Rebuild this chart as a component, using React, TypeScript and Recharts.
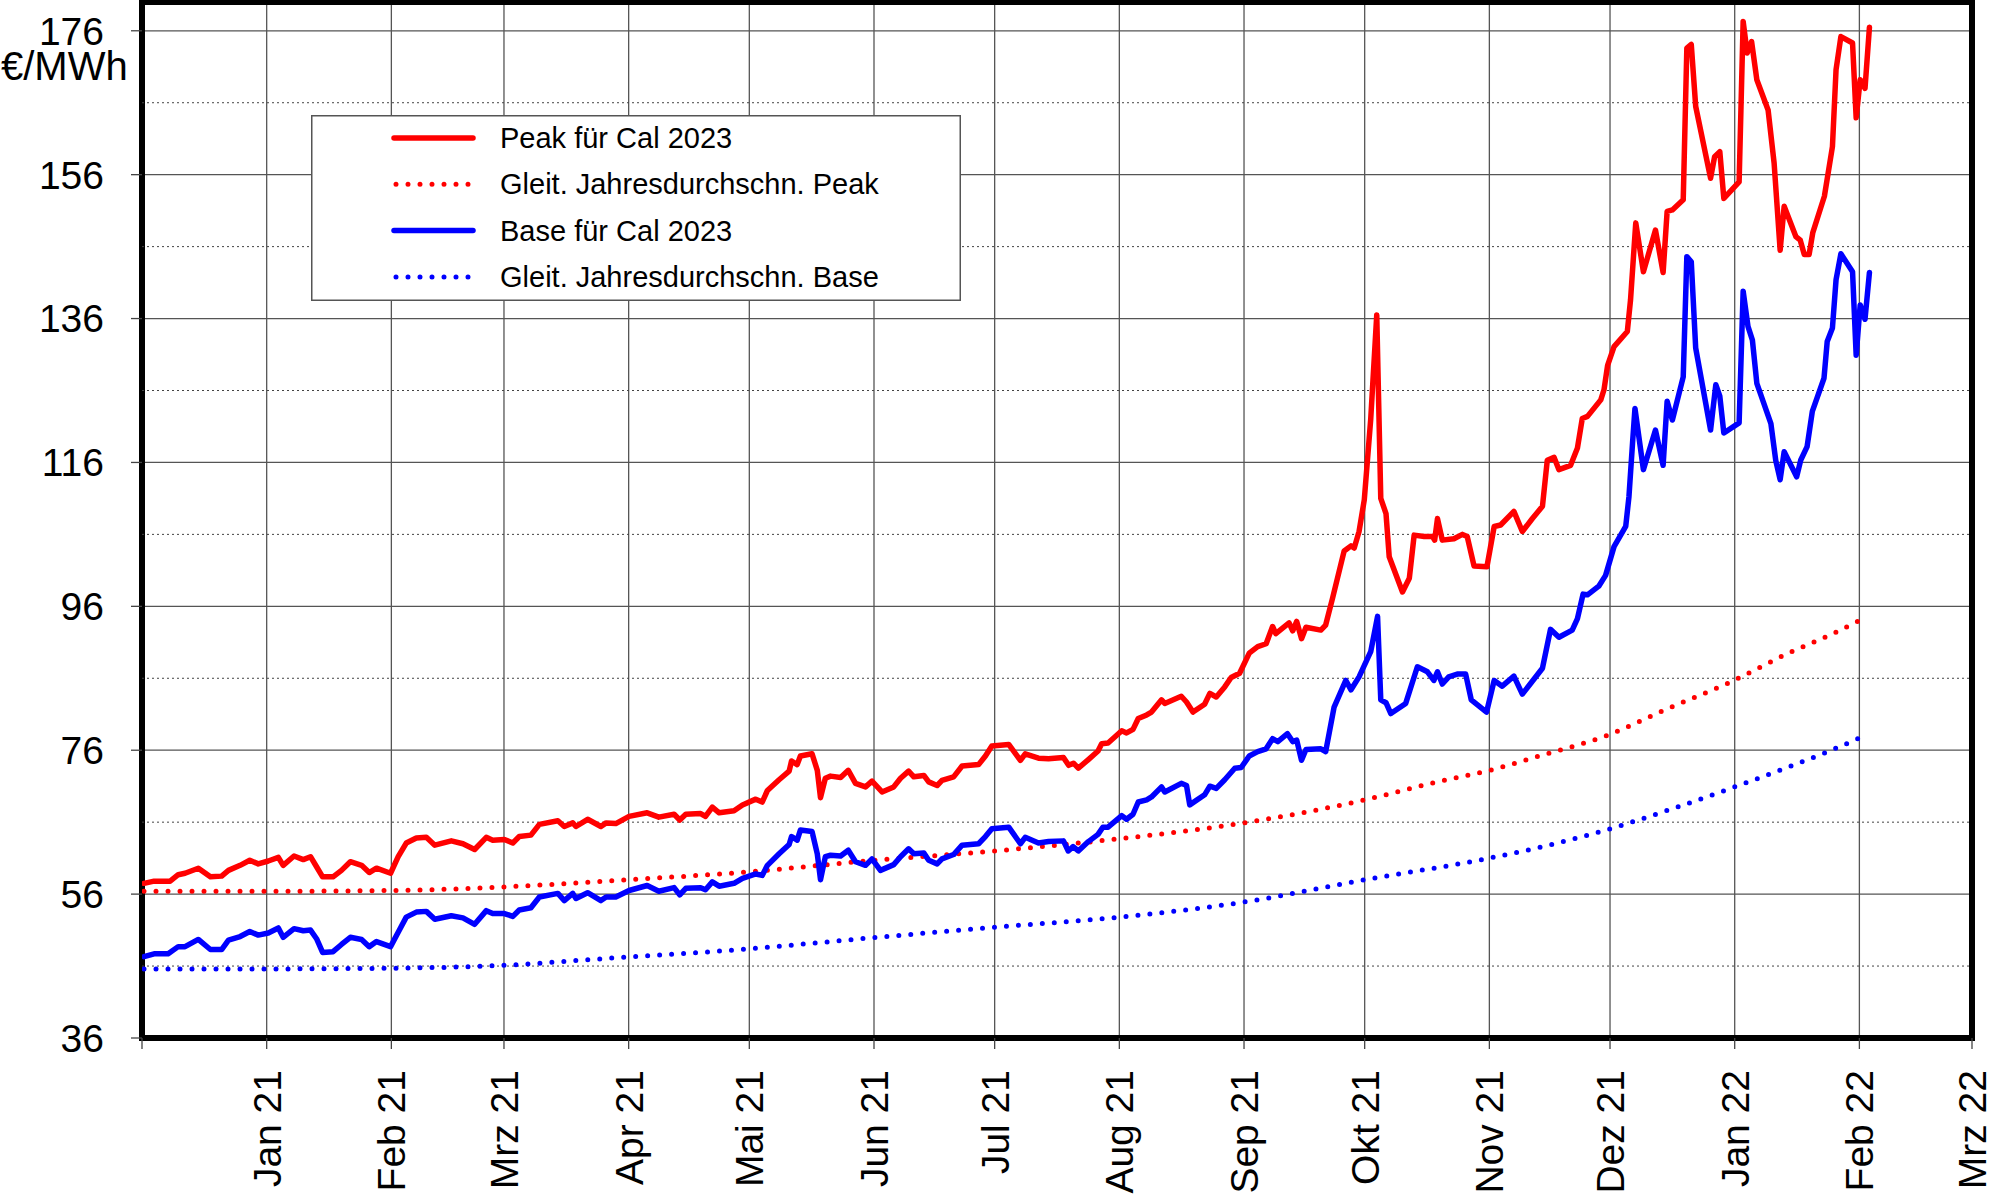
import React from 'react';
import {
  LineChart, Line, XAxis, YAxis, CartesianGrid, ReferenceLine, ReferenceArea, Legend, Label,
} from 'recharts';

// x = days since 1 Dec 2020, y = €/MWh
const peak: [number, number][] = [
  [0.5, 57.5], [3, 57.8], [7, 57.8], [9, 58.7], [10.7, 58.9], [14, 59.6], [17, 58.4], [19.8, 58.5],
  [21.5, 59.3], [24.4, 60.0], [26.8, 60.7], [28.9, 60.2], [31.4, 60.6], [33.9, 61.1], [35.1, 60.0],
  [37.8, 61.3], [40.1, 60.8], [41.9, 61.2], [43.4, 59.8], [44.9, 58.4], [47.5, 58.4], [49.6, 59.3],
  [51.8, 60.5], [54.6, 60.0], [56.5, 59.0], [58.3, 59.6], [61.8, 58.9], [63.7, 61.2], [65.7, 63.1],
  [68.2, 63.8], [70.7, 63.9], [72.8, 62.8], [76.9, 63.4], [79.8, 63.0], [82.7, 62.2], [85.6, 63.9],
  [87.2, 63.5], [90.1, 63.6], [92.2, 63.1], [93.8, 64.0], [96.7, 64.2], [98.8, 65.7], [103.4, 66.2],
  [105, 65.4], [107.1, 65.9], [107.9, 65.4], [110.8, 66.4], [114.1, 65.4], [115.4, 65.9], [117.8, 65.8],
  [121.1, 66.8], [125.6, 67.3], [128.5, 66.7], [132.3, 67.1], [133.7, 66.3], [135.2, 67.1], [138.9, 67.2],
  [140.1, 66.8], [141.8, 68.1], [143.5, 67.3], [147.2, 67.6], [149.3, 68.4], [152.6, 69.2], [154.2, 68.8],
  [155.5, 70.4], [158.4, 71.9], [160.9, 73.1], [161.5, 74.5], [162.9, 74.0], [163.7, 75.2], [166.6, 75.5],
  [167.9, 73.2], [168.7, 69.4], [169.9, 72.1], [171.2, 72.4], [173.7, 72.2], [175.6, 73.2], [177.4, 71.4],
  [179.9, 70.9], [181.5, 71.7], [184, 70.2], [186.9, 70.9], [188.6, 72.1], [190.6, 73.1], [191.9, 72.3],
  [194.4, 72.5], [195.6, 71.6], [197.7, 71.1], [198.9, 71.8], [201.8, 72.3], [203.9, 73.8], [208, 74.0],
  [209.7, 75.2], [211.3, 76.6], [215.5, 76.8], [218.4, 74.6], [219.6, 75.5], [222.9, 74.9], [225.4, 74.8],
  [229.1, 75.0], [230.4, 73.9], [231.6, 74.2], [232.8, 73.5], [235.3, 74.7], [237.7, 75.9], [238.6, 76.9],
  [240.2, 77.0], [243.6, 78.7], [244.8, 78.4], [246.4, 78.9], [247.7, 80.4], [249.8, 80.9], [251, 81.3],
  [253.5, 83.0], [254.3, 82.5], [258.4, 83.5], [259.7, 82.7], [261.3, 81.3], [264.2, 82.4], [265.5, 83.9],
  [267.1, 83.4], [269.2, 84.8], [270.8, 86.1], [272.9, 86.7], [275.3, 89.5], [277.4, 90.4], [279.5, 90.8],
  [281.1, 93.2], [281.9, 92.2], [285.2, 93.7], [286.1, 92.6], [287.1, 93.9], [288.3, 91.5], [289.4, 93.1],
  [293.1, 92.7], [294.3, 93.4], [296, 97.1], [298.9, 103.7], [300.6, 104.4], [301.4, 104.1], [302.6, 106.4],
  [303.9, 110.8], [305.5, 122], [307, 136.5], [308, 111], [309.3, 108.9], [310.1, 102.9], [313.4, 98.0],
  [315.1, 99.9], [316.3, 105.9], [318.8, 105.7], [320.9, 105.7], [321.4, 105.2], [322.1, 108.2],
  [323.3, 105.2], [326.2, 105.4], [328.3, 106.0], [329.5, 105.7], [331.2, 101.6], [334.4, 101.5],
  [336.2, 107.1], [337.8, 107.3], [341.1, 109.2], [343.2, 106.4], [345.7, 108.2], [348.2, 109.9],
  [349.4, 116.3], [351.1, 116.7], [352.3, 115.0], [355.2, 115.6], [356.9, 118.0], [358.1, 122.1],
  [359.4, 122.4], [362.7, 124.7], [363.5, 126.1], [364.4, 129.5], [366, 132.1], [369.3, 134.2],
  [370.1, 138.6], [371.4, 149.3], [373.3, 142.5], [376.3, 148.3], [378.2, 142.4], [379.2, 150.9],
  [380.5, 151.1], [383.2, 152.5], [384.1, 173.6], [385.2, 174.1], [386.3, 165.5], [390, 155.5],
  [391, 158.5], [392.3, 159.2], [393.3, 152.7], [397.1, 155.0], [398.1, 177.3], [399.1, 172.9],
  [400.2, 174.5], [401.5, 169.2], [404.3, 165.0], [405.8, 157.6], [407.3, 145.5], [408.3, 151.6],
  [411.2, 147.4], [412.3, 146.9], [413.3, 144.9], [414.5, 144.9], [415.4, 147.9], [418.3, 153.0],
  [420.3, 159.9], [421.2, 170.6], [422.4, 175.2], [425.3, 174.3], [426.2, 163.9], [427.2, 169.2],
  [428.4, 168.0], [429.5, 176.5],
];

const base: [number, number][] = [
  [0.5, 47.3], [3, 47.7], [6.5, 47.7], [9, 48.7], [10.7, 48.7], [14, 49.7], [17, 48.3], [19.8, 48.3],
  [21.5, 49.6], [24.4, 50.1], [26.8, 50.8], [28.9, 50.3], [31.4, 50.6], [33.9, 51.3], [35.1, 50.0],
  [37.8, 51.2], [40.1, 50.9], [41.9, 51.0], [43.4, 49.8], [44.9, 47.9], [47.5, 48.0], [49.6, 49.0],
  [51.8, 50.0], [54.6, 49.7], [56.5, 48.7], [58.3, 49.4], [61.8, 48.7], [63.7, 50.7], [65.7, 52.8],
  [68.2, 53.5], [70.7, 53.6], [72.8, 52.5], [76.9, 53.0], [79.8, 52.7], [82.7, 51.8], [85.6, 53.7],
  [87.2, 53.3], [90.1, 53.3], [92.2, 52.9], [93.8, 53.8], [96.7, 54.1], [98.8, 55.6], [103.4, 56.1],
  [105, 55.1], [107.1, 56.1], [107.9, 55.4], [110.8, 56.2], [114.1, 55.1], [115.4, 55.6], [117.8, 55.6],
  [121.1, 56.5], [125.6, 57.2], [128.5, 56.4], [132.3, 56.9], [133.7, 55.9], [135.2, 56.8], [138.9, 56.9],
  [140.1, 56.6], [141.8, 57.7], [143.5, 57.1], [147.2, 57.5], [149.3, 58.2], [152.6, 58.8], [154.2, 58.6],
  [155.5, 60.0], [158.4, 61.6], [160.9, 62.9], [161.5, 64.0], [162.9, 63.5], [163.7, 64.9], [166.6, 64.7],
  [167.9, 61.6], [168.7, 58.0], [169.9, 61.2], [171.2, 61.4], [173.7, 61.3], [175.6, 62.1], [177.4, 60.5],
  [179.9, 60.0], [181.5, 60.9], [183.6, 59.3], [186.9, 60.1], [188.6, 61.2], [190.6, 62.3], [191.9, 61.6],
  [194.4, 61.7], [195.6, 60.7], [197.7, 60.2], [198.9, 60.9], [201.8, 61.5], [203.9, 62.8], [208, 63.0],
  [209.7, 64.0], [211.3, 65.1], [215.5, 65.3], [218.4, 63.0], [219.6, 63.9], [222.9, 63.1], [225.4, 63.3],
  [229.1, 63.4], [230.3, 62.0], [231.5, 62.6], [232.8, 62.0], [235.3, 63.3], [237.7, 64.3], [238.9, 65.3],
  [240.2, 65.3], [243.6, 66.9], [244.8, 66.4], [246.4, 67.1], [247.7, 68.8], [249.8, 69.1], [251, 69.5],
  [253.5, 70.9], [254.3, 70.2], [258.4, 71.4], [259.7, 71.1], [260.5, 68.4], [264.2, 69.8], [265.5, 71.0],
  [267.1, 70.7], [269.2, 71.9], [271.7, 73.5], [273.3, 73.6], [275.3, 75.2], [277.4, 75.8], [279.5, 76.2],
  [281.1, 77.6], [282.4, 77.2], [284.8, 78.3], [286.1, 77.2], [287.1, 77.4], [288.3, 74.6], [289.4, 76.1],
  [293.1, 76.2], [294.3, 75.8], [296.4, 82.0], [299.3, 85.7], [300.6, 84.4], [302.6, 86.2], [305.5, 89.7],
  [307.2, 94.6], [308, 83.0], [309.3, 82.6], [310.5, 81.1], [314.2, 82.5], [317.1, 87.6], [319.6, 86.9],
  [321.2, 85.7], [322.1, 86.9], [323.3, 85.2], [324.9, 86.2], [327.2, 86.6], [329.1, 86.6], [330.5, 83.0],
  [334.3, 81.3], [336.2, 85.7], [338.2, 84.9], [341.1, 86.3], [343.2, 83.8], [345.3, 85.3], [348.2, 87.4],
  [350.2, 92.8], [352.3, 91.7], [355.6, 92.7], [356.9, 94.3], [358.3, 97.7], [359.4, 97.6], [362.2, 98.8],
  [363.9, 100.3], [366, 104.3], [368.9, 107.1], [369.7, 111.2], [370.6, 118.7], [371.2, 123.5],
  [373.3, 115.0], [376.3, 120.5], [378.2, 115.6], [379.2, 124.5], [380.5, 121.9], [383.2, 127.9],
  [384.1, 144.6], [385.2, 143.9], [386.3, 131.9], [390, 120.5], [391.3, 126.8], [392.3, 125.2],
  [393.3, 120.1], [397.1, 121.5], [398.1, 139.8], [399.3, 134.9], [400.4, 133.0], [401.5, 127.0],
  [405, 121.4], [406.2, 116.3], [407.3, 113.6], [408.3, 117.5], [411.4, 114.0], [412.4, 116.3],
  [414, 118.2], [415.3, 123.1], [418.2, 127.7], [419, 132.8], [420.3, 134.7], [421.2, 141.4],
  [422.4, 145.0], [425.3, 142.5], [426.2, 130.9], [427.2, 137.9], [428.4, 135.9], [429.5, 142.4],
];

// rolling yearly averages
const peakAvg: [number, number][] = [
  [0.5, 56.4], [30, 56.4], [62, 56.5], [90, 57.0], [118, 57.9], [151, 59.1], [182, 60.7], [212, 62.0],
  [243, 63.7], [274, 65.9], [304, 69.1], [322, 71.6], [335, 73.2], [348, 75.3], [364, 78.0], [379, 81.7],
  [395, 85.5], [409, 89.4], [420, 92.1], [429, 94.6],
];

const baseAvg: [number, number][] = [
  [0.5, 45.6], [30, 45.6], [62, 45.7], [90, 46.1], [114, 47.0], [151, 48.4], [182, 49.95], [212, 51.4],
  [243, 52.8], [274, 54.9], [304, 58.0], [335, 61.0], [349, 62.7], [364, 64.9], [378, 67.4], [395, 70.7],
  [409, 73.6], [420, 76.0], [429, 78.2],
];

const monthTicks = [0, 31, 62, 90, 121, 151, 182, 212, 243, 274, 304, 335, 365, 396, 427, 455];
const monthLabels = ['', 'Jan 21', 'Feb 21', 'Mrz 21', 'Apr 21', 'Mai 21', 'Jun 21', 'Jul 21', 'Aug 21',
  'Sep 21', 'Okt 21', 'Nov 21', 'Dez 21', 'Jan 22', 'Feb 22', 'Mrz 22'];
const yTicks = [36, 56, 76, 96, 116, 136, 156, 176];
const yMinor = [46, 66, 86, 106, 126, 146, 166];

const seriesList = [
  { name: 'Peak für Cal 2023', color: '#ff0000', dotted: false },
  { name: 'Gleit. Jahresdurchschn. Peak', color: '#ff0000', dotted: true },
  { name: 'Base für Cal 2023', color: '#0000ff', dotted: false },
  { name: 'Gleit. Jahresdurchschn. Base', color: '#0000ff', dotted: true },
];

const FONT = '"Liberation Sans", Arial, sans-serif';
const toRows = (pts: [number, number][]) => pts.map(([day, v]) => ({ day, v }));

const MonthTick = (props: any) => {
  const { x, y, payload } = props;
  const label = monthLabels[monthTicks.indexOf(payload.value)] ?? '';
  return (
    <text x={x} y={y} transform={`rotate(-90, ${x}, ${y})`} textAnchor="end" dy="0.36em"
      fontSize={39} fontFamily={FONT} fill="#000">
      {label}
    </text>
  );
};

const LegendBox = () => (
  <svg width={650} height={186} style={{ display: 'block' }}>
    <rect x={0.75} y={0.75} width={648.5} height={184.5} fill="#fff" stroke="#555" strokeWidth={1.5} />
    {seriesList.map((s, i) => {
      const cy = 23 + i * 46.3;
      return (
        <g key={s.name}>
          <line x1={s.dotted ? 85 : 83} x2={s.dotted ? 160 : 162} y1={cy} y2={cy} stroke={s.color}
            strokeWidth={s.dotted ? 5 : 5.5} strokeLinecap="round"
            strokeDasharray={s.dotted ? '0 12' : undefined} />
          <text x={189} y={cy} dy="0.35em" fontSize={29} fontFamily={FONT} fill="#000">{s.name}</text>
        </g>
      );
    })}
  </svg>
);

const App: React.FC = () => (
  <div style={{ position: 'absolute', left: 0, top: 0, width: 2000, height: 1197, background: '#fff' }}>
    <LineChart width={2000} height={1197} margin={{ top: 2, right: 28, bottom: 9, left: 0 }}
      style={{ fontFamily: FONT }}>
      <CartesianGrid stroke="#555" strokeWidth={1.3} />
      {yMinor.map((v) => (
        <ReferenceLine key={v} y={v} stroke="#444" strokeWidth={1} strokeDasharray="2 3" />
      ))}
      <XAxis dataKey="day" type="number" domain={[0, 455]} ticks={monthTicks} allowDataOverflow
        height={150} axisLine={false} tickLine={{ stroke: '#444', strokeWidth: 1.3 }} tickSize={11}
        tickMargin={21} tick={<MonthTick />} interval={0} />
      <YAxis type="number" domain={[36, 180]} ticks={yTicks} allowDataOverflow width={142}
        axisLine={false} tickLine={{ stroke: '#444', strokeWidth: 1.3 }} tickSize={11} tickMargin={27}
        tick={{ fontSize: 39, fill: '#000', fontFamily: FONT }} interval={0}>
        <Label content={(p: any) => (
          <text x={1} y={80} fontSize={40} fontFamily={FONT} fill="#000">€/MWh</text>
        )} />
      </YAxis>
      <Line data={toRows(peakAvg)} dataKey="v" type="monotone" stroke="#ff0000" strokeWidth={5}
        strokeDasharray="0 12" strokeLinecap="round" dot={false} isAnimationActive={false} />
      <Line data={toRows(baseAvg)} dataKey="v" type="monotone" stroke="#0000ff" strokeWidth={5}
        strokeDasharray="0 12" strokeLinecap="round" dot={false} isAnimationActive={false} />
      <Line data={toRows(base)} dataKey="v" type="linear" stroke="#0000ff" strokeWidth={5.5}
        strokeLinejoin="round" strokeLinecap="round" dot={false} isAnimationActive={false} />
      <Line data={toRows(peak)} dataKey="v" type="linear" stroke="#ff0000" strokeWidth={5.5}
        strokeLinejoin="round" strokeLinecap="round" dot={false} isAnimationActive={false} />
      <ReferenceArea x1={0} x2={455} y1={36} y2={180} fill="none" fillOpacity={0} stroke="#000"
        strokeWidth={6} />
      <Legend layout="horizontal" verticalAlign="middle" align="center" content={() => <LegendBox />}
        wrapperStyle={{ left: 311, top: 115, width: 650, height: 186 }} />
    </LineChart>
  </div>
);

export default App;
